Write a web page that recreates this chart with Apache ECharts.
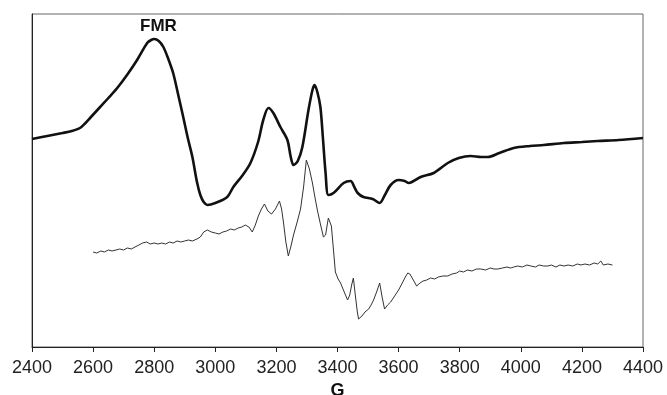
<!DOCTYPE html>
<html>
<head>
<meta charset="utf-8">
<script src="https://cdn.jsdelivr.net/npm/echarts@6/dist/echarts.min.js"></script>
<style>
html,body{margin:0;padding:0;background:#fff;}
#c{width:667px;height:395px;}
</style>
</head>
<body>
<div id="c"></div>
<script>
// X axis ticks (field, G)
const xTicks = [2400, 2600, 2800, 3000, 3200, 3400, 3600, 3800, 4000, 4200, 4400];
const xName = 'G';
const fmrLabel = 'FMR';

// Upper thick trace (FMR), arbitrary intensity units: [G, intensity]
const fmrSeries = [
  [2400,208],[2450,211],[2500,214],[2530,216],[2557,219],[2575,224],[2590,229],[2623,240],[2650,249],[2679,259],
  [2711,272],[2744,287],[2777,304],[2790,307],[2800,308],[2815,306],[2830,300],[2845,289],
  [2862,274],[2878,253],[2895,230],[2910,209],[2925,190],[2940,165],[2951,152],[2962,145],
  [2974,142],[3000,144],[3039,150],[3059,160],[3090,172],[3115,184],[3140,205],[3157,227],
  [3174,239],[3190,234],[3213,220],[3236,207],[3247,190],[3256,182],[3270,186],[3285,200],
  [3305,237],[3318,257],[3325,262],[3334,255],[3344,240],[3352,210],[3361,174],[3370,152],
  [3387,154],[3420,164],[3443,166],[3455,160],[3466,154],[3485,150],[3515,148],[3538,144],
  [3555,152],[3574,162],[3600,167],[3620,166],[3633,164],[3672,170],[3715,174],[3761,184],
  [3797,189],[3836,191],[3870,190],[3892,190],[3930,194],[3977,199],[4030,201],[4075,202],
  [4141,204],[4200,205],[4252,206],[4320,207],[4400,209]
];

// Lower thin trace (EPR), arbitrary intensity units: [G, intensity]
const eprSeries = [
  [2600,95],[2612,94],[2625,96],[2637,95],[2650,97],[2662,96],[2675,97],[2687,98],[2700,97],
  [2712,99],[2725,98],[2737,100],[2750,102],[2762,104],[2775,105],[2787,103],[2800,104],
  [2812,103],[2825,104],[2837,103],[2850,105],[2862,104],[2875,106],[2887,105],[2900,106],
  [2912,107],[2925,106],[2940,108],[2951,110],[2962,115],[2974,117],[2987,115],[3000,114],
  [3012,113],[3025,115],[3037,116],[3050,118],[3062,117],[3075,119],[3087,120],[3098,122],
  [3110,120],[3121,115],[3131,122],[3141,131],[3151,138],[3161,143],[3172,136],[3184,133],
  [3197,138],[3210,146],[3217,138],[3223,125],[3231,105],[3239,91],[3247,100],[3256,112],
  [3268,125],[3279,138],[3289,160],[3298,187],[3308,178],[3318,164],[3326,150],[3334,137],
  [3344,123],[3354,110],[3361,112],[3370,129],[3375,127],[3380,121],[3386,100],[3393,75],
  [3402,68],[3410,64],[3422,55],[3433,47],[3440,52],[3447,63],[3452,69],[3459,50],[3465,35],
  [3469,28],[3480,31],[3490,35],[3502,38],[3510,42],[3518,47],[3528,55],[3538,64],[3546,50],
  [3554,38],[3564,42],[3574,45],[3587,51],[3600,57],[3612,64],[3622,70],[3630,74],[3637,73],
  [3643,72],[3650,66],[3659,61],[3670,64],[3680,66],[3692,67],[3705,69],[3718,68],[3730,70],
  [3745,71],[3761,71],[3775,73],[3790,74],[3800,76],[3813,75],[3825,77],[3840,76],[3855,78],
  [3869,78],[3885,77],[3900,79],[3912,78],[3925,78],[3940,79],[3955,80],[3967,79],[3977,80],
  [3990,81],[4005,80],[4020,82],[4033,81],[4048,80],[4060,82],[4075,81],[4089,81],[4100,82],
  [4115,80],[4128,82],[4141,81],[4155,82],[4170,81],[4185,83],[4197,82],[4210,83],[4225,82],
  [4240,84],[4252,83],[4262,86],[4270,82],[4285,83],[4300,82]
];

const chart = echarts.init(document.getElementById('c'), null, {renderer: 'canvas'});
const font = 'Liberation Sans, Arial, Helvetica, sans-serif';
chart.setOption({
  animation: false,
  backgroundColor: '#fff',
  grid: {left: 32, right: 24, top: 14, bottom: 48, show: true, borderColor: '#666', borderWidth: 1,
         containLabel: false, outerBoundsMode: 'none'},
  xAxis: {
    type: 'value',
    min: xTicks[0], max: xTicks[xTicks.length - 1], interval: xTicks[1] - xTicks[0],
    name: xName, nameLocation: 'middle', nameGap: 32,
    nameTextStyle: {fontFamily: font, fontSize: 18, fontWeight: 'bold', color: '#111'},
    axisLine: {show: true, onZero: false, lineStyle: {color: '#222', width: 1}},
    axisTick: {show: true, inside: false, length: 5, lineStyle: {color: '#222'}},
    axisLabel: {fontFamily: font, fontSize: 18, lineHeight: 14, color: '#222', margin: 14,
                formatter: function (v) { return String(v); }},
    splitLine: {show: false}
  },
  yAxis: {
    type: 'value', min: 0, max: 333,
    axisLine: {show: true, lineStyle: {color: '#222', width: 1}},
    axisTick: {show: false}, axisLabel: {show: false}, splitLine: {show: false}
  },
  graphic: [{
    type: 'text', left: 140, top: 18,
    style: {text: fmrLabel, font: 'bold 17px ' + font, fill: '#111'}
  }],
  series: [
    {type: 'line', data: fmrSeries, showSymbol: false, smooth: 0.3,
     lineStyle: {color: '#111', width: 2.6}},
    {type: 'line', data: eprSeries, showSymbol: false, smooth: false,
     lineStyle: {color: '#333', width: 1}}
  ]
});
</script>
</body>
</html>
